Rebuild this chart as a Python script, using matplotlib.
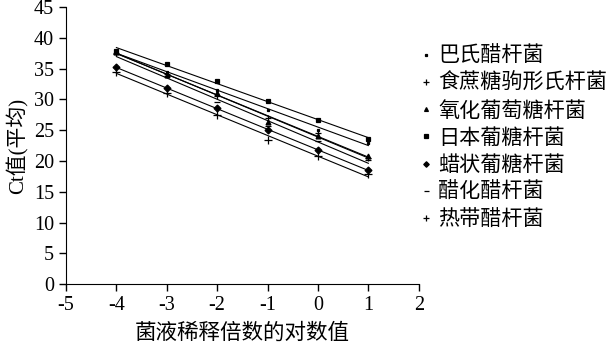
import numpy as np
import matplotlib
matplotlib.use("Agg")
import matplotlib.pyplot as plt

# log10 dilution and Ct values
x = [-4, -3, -2, -1, 0, 1]

names = ["巴氏醋杆菌", "食蔗糖驹形氏杆菌", "氧化葡萄糖杆菌", "日本葡糖杆菌",
         "蜡状葡糖杆菌", "醋化醋杆菌", "热带醋杆菌"]
ct_babu = [37.6, 34.5, 31.6, 28.3, 25.1, 22.9]
ct_shizhe = [37.5, 34.2, 30.5, 27.0, 24.6, 20.4]
ct_yanghua = [37.7, 34.0, 31.0, 26.4, 24.0, 20.8]
ct_riben = [37.9, 35.8, 33.0, 29.7, 26.6, 23.6]
ct_lazhuang = [35.2, 31.8, 28.6, 25.0, 21.8, 18.5]
ct_cuhua = [37.3, 33.8, 29.6, 25.6, 23.2, 20.2]
ct_redai = [34.4, 31.0, 27.5, 23.4, 20.8, 17.8]

series = [ct_babu, ct_shizhe, ct_yanghua, ct_riben, ct_lazhuang, ct_cuhua, ct_redai]
markers = ["s", "+", "^", "s", "D", "_", "+"]
msizes = [2, 5, 3.5, 3.5, 3.5, 4.5, 6]

plt.rcParams["axes.unicode_minus"] = False
serif = ["Liberation Serif", "Noto Sans CJK SC"]
cjk = ["Noto Sans CJK SC", "DejaVu Sans"]

fig = plt.figure(figsize=(6.14, 3.52), dpi=100)
ax = fig.add_axes([0.1075, 0.193, 0.5745, 0.787])

xs = np.array(x, dtype=float)
for name, ys, m, ms in zip(names, series, markers, msizes):
    # linear trend line
    k, b = np.polyfit(xs, ys, 1)
    ax.plot(xs, k * xs + b, color="black", lw=0.8)
    ax.plot(xs, ys, linestyle="none", marker=m, color="black",
            markersize=ms, markeredgewidth=0.9, label=name)

ax.set_xlim(-5, 2)
ax.set_ylim(0, 45)
ax.set_xticks(range(-5, 3))
ax.set_yticks(range(0, 50, 5))
for s in ["top", "right"]:
    ax.spines[s].set_visible(False)
ax.tick_params(direction="out", length=5, width=1, labelsize=14.5)
for lab in ax.get_xticklabels() + ax.get_yticklabels():
    lab.set_family(serif)

ax.set_xlabel("菌液稀释倍数的对数值", family=cjk, fontsize=15.5, labelpad=5)
ax.set_ylabel("Ct值(平均)", family=serif, fontsize=15, labelpad=4)

ax.legend(loc="upper left", bbox_to_anchor=(1.005, 0.863), frameon=False,
          prop={"family": cjk, "size": 15.2}, handlelength=0.5,
          handletextpad=0.35, labelspacing=0.25, borderaxespad=0.0,
          borderpad=0.0, markerscale=0.8)

fig.savefig("out.png", dpi=100)
